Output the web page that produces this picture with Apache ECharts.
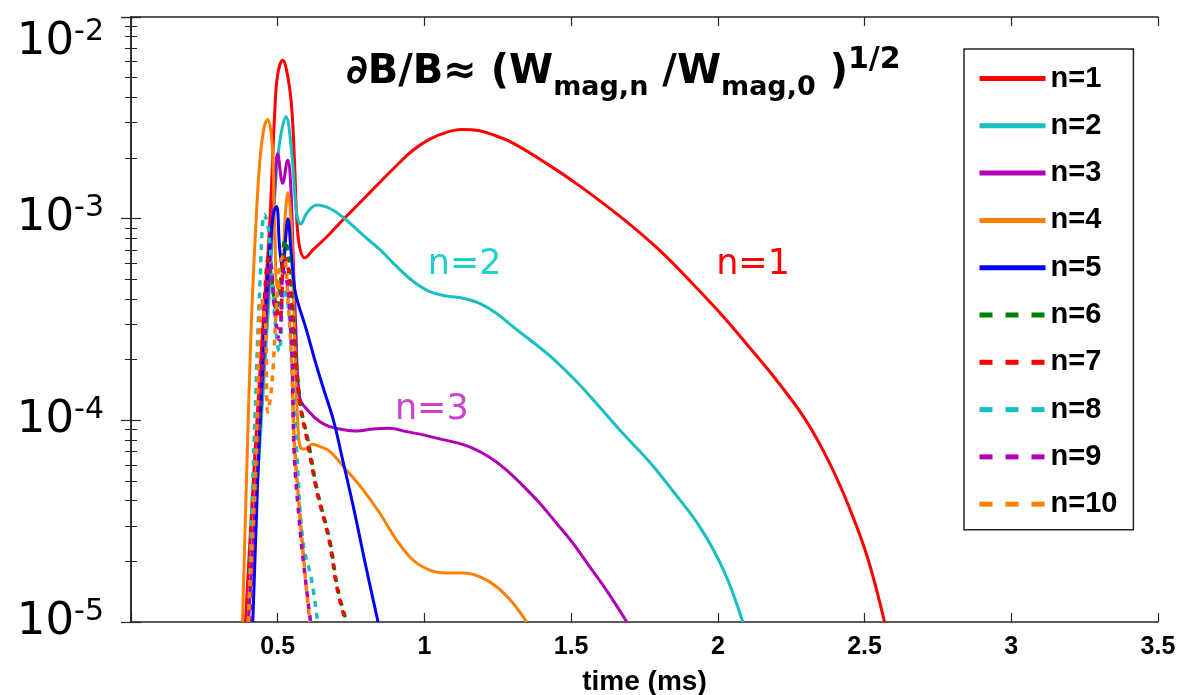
<!DOCTYPE html>
<html><head><meta charset="utf-8">
<script src="https://cdn.jsdelivr.net/npm/echarts@6/dist/echarts.min.js"></script>
<style>html,body{margin:0;padding:0;background:#fff}#c{width:1182px;height:695px}</style>
</head><body><div id="c"></div>
<script>
// ---- data (time in ms, dB/B) ----
const seriesNames = ['n=1','n=2','n=3','n=4','n=5','n=6','n=7','n=8','n=9','n=10'];
const n1 = [[0.39,1e-5],[0.42,6e-5],[0.45,3e-4],[0.47,8e-4],[0.48,1.6e-3],[0.49,3.4e-3],[0.50,5.2e-3],[0.517,6.1e-3],[0.535,5.0e-3],[0.548,3.5e-3],[0.558,1.8e-3],[0.565,1.0e-3],[0.575,7.2e-4],[0.592,6.4e-4],[0.62,7.0e-4],[0.67,8.2e-4],[0.72,9.8e-4],[0.78,1.2e-3],[0.849,1.52e-3],[0.906,1.84e-3],[0.962,2.19e-3],[1.018,2.48e-3],[1.075,2.68e-3],[1.126,2.77e-3],[1.188,2.73e-3],[1.245,2.57e-3],[1.302,2.37e-3],[1.416,1.88e-3],[1.53,1.45e-3],[1.676,1.0e-3],[1.80,7.0e-4],[1.90,5.0e-4],[2.00,3.5e-4],[2.10,2.37e-4],[2.20,1.58e-4],[2.30,1.0e-4],[2.38,6.17e-5],[2.45,3.63e-5],[2.51,2.09e-5],[2.568,1e-5]];
const n2 = [[0.40,1e-5],[0.44,8e-5],[0.47,4e-4],[0.49,1.3e-3],[0.505,2.3e-3],[0.528,3.2e-3],[0.548,2.1e-3],[0.565,1.05e-3],[0.578,9.4e-4],[0.60,1.07e-3],[0.633,1.17e-3],[0.68,1.12e-3],[0.728,1.0e-3],[0.79,8.3e-4],[0.849,7.0e-4],[0.906,5.78e-4],[0.962,4.88e-4],[1.018,4.35e-4],[1.075,4.14e-4],[1.132,4.03e-4],[1.188,3.8e-4],[1.245,3.4e-4],[1.302,2.91e-4],[1.359,2.51e-4],[1.437,2.03e-4],[1.52,1.55e-4],[1.6,1.15e-4],[1.68,8.5e-5],[1.768,6.2e-5],[1.85,4.4e-5],[1.938,2.97e-5],[2.02,1.8e-5],[2.085,1e-5]];
const n3 = [[0.40,1e-5],[0.44,1e-4],[0.47,5e-4],[0.488,1.3e-3],[0.50,2.1e-3],[0.517,1.5e-3],[0.534,1.95e-3],[0.544,1.5e-3],[0.552,7e-4],[0.562,2.8e-4],[0.575,1.3e-4],[0.61,1.09e-4],[0.645,9.8e-5],[0.678,9.3e-5],[0.711,9.06e-5],[0.768,8.85e-5],[0.825,9.06e-5],[0.882,9.13e-5],[0.939,8.79e-5],[0.996,8.47e-5],[1.052,8.09e-5],[1.109,7.75e-5],[1.166,7.27e-5],[1.222,6.56e-5],[1.279,5.68e-5],[1.336,4.73e-5],[1.393,3.88e-5],[1.45,3.09e-5],[1.506,2.46e-5],[1.563,1.88e-5],[1.62,1.44e-5],[1.69,1e-5]];
const n4 = [[0.38,1e-5],[0.395,6e-5],[0.41,3e-4],[0.425,9e-4],[0.44,2.0e-3],[0.455,2.9e-3],[0.466,3.1e-3],[0.477,2.7e-3],[0.484,1.9e-3],[0.49,9e-4],[0.50,4.5e-4],[0.515,5e-4],[0.525,1.0e-3],[0.535,1.35e-3],[0.545,1.0e-3],[0.552,5e-4],[0.56,2e-4],[0.568,1.0e-4],[0.578,7.3e-5],[0.595,7.2e-5],[0.618,7.6e-5],[0.645,7.4e-5],[0.678,7.0e-5],[0.734,5.68e-5],[0.791,4.52e-5],[0.848,3.46e-5],[0.905,2.55e-5],[0.961,2.03e-5],[1.018,1.81e-5],[1.075,1.75e-5],[1.132,1.75e-5],[1.188,1.68e-5],[1.245,1.5e-5],[1.302,1.24e-5],[1.348,1e-5]];
const n5 = [[0.415,1e-5],[0.44,1e-4],[0.465,5e-4],[0.485,1.05e-3],[0.496,1.15e-3],[0.507,7e-4],[0.518,5.5e-4],[0.527,8e-4],[0.535,1.0e-3],[0.545,7e-4],[0.555,4.8e-4],[0.565,4.0e-4],[0.595,2.9e-4],[0.626,2.0e-4],[0.655,1.45e-4],[0.69,1.0e-4],[0.72,6.5e-5],[0.76,3.6e-5],[0.80,1.9e-5],[0.842,1e-5]];
const n6 = [[0.40,1e-5],[0.43,6e-5],[0.455,2.8e-4],[0.475,5.5e-4],[0.495,3.5e-4],[0.51,5e-4],[0.525,7.8e-4],[0.54,6e-4],[0.555,3e-4],[0.57,1.5e-4],[0.582,1.1e-4],[0.603,8e-5],[0.636,4.4e-5],[0.677,2.55e-5],[0.705,1.45e-5],[0.735,1e-5]];
const n7 = [[0.395,1e-5],[0.425,6e-5],[0.45,3e-4],[0.47,6.5e-4],[0.49,4e-4],[0.508,3.2e-4],[0.522,6.5e-4],[0.537,5.5e-4],[0.552,2.8e-4],[0.568,1.5e-4],[0.58,1.1e-4],[0.60,8e-5],[0.634,4.4e-5],[0.675,2.55e-5],[0.703,1.45e-5],[0.732,1e-5]];
const n8 = [[0.40,1e-5],[0.42,8e-5],[0.44,5e-4],[0.455,1.05e-3],[0.47,8.5e-4],[0.488,3.5e-4],[0.505,2.2e-4],[0.522,4.5e-4],[0.538,3.5e-4],[0.552,1.6e-4],[0.565,7e-5],[0.586,2.5e-5],[0.616,1.6e-5],[0.636,1e-5]];
const n9 = [[0.405,1e-5],[0.43,7e-5],[0.455,3e-4],[0.475,6e-4],[0.49,3.5e-4],[0.505,2.5e-4],[0.52,5.5e-4],[0.535,4.5e-4],[0.548,2.2e-4],[0.556,7e-5],[0.575,3e-5],[0.595,1.6e-5],[0.612,1e-5]];
const n10 = [[0.40,1e-5],[0.425,6e-5],[0.445,4e-4],[0.458,3e-4],[0.466,1.1e-4],[0.48,1.5e-4],[0.495,3.5e-4],[0.507,6e-4],[0.52,6.5e-4],[0.535,4e-4],[0.548,1.8e-4],[0.557,7.7e-5],[0.575,3.5e-5],[0.592,1.8e-5],[0.609,1e-5]];
const thresholdLevel = 1.03e-3;
const xTickLabels = [0.5,1,1.5,2,2.5,3,3.5];
const yExponents = [-5,-4,-3,-2];
const annotationText = ['n=1','n=2','n=3'];
const annotationX = [2.12, 1.137, 1.025];
const annotationY = [5.9e-4, 5.9e-4, 1.13e-4];
const annotationColor = ['#FF0000','#1ED0D0','#CC44CC'];

// ---- styles ----
const allData = [n1,n2,n3,n4,n5,n6,n7,n8,n9,n10];
const colors = ['#FF0000','#17BFBF','#B000B4','#FF8000','#0000FF','#008000','#FF0000','#17BFBF','#B000B4','#FF8000'];
const dashed = [false,false,false,false,false,true,true,true,true,true];
const axisColor = '#262626';
const sansBold = "'Liberation Sans',Arial,sans-serif";
const dejavu = "'DejaVu Sans',sans-serif";

const series = seriesNames.map((name, i) => ({
  type: 'line', name, data: allData[i], symbol: 'none', smooth: 0.4,
  clip: true,
  lineStyle: { color: colors[i], width: dashed[i] ? 3.5 : 3, type: dashed[i] ? [6, 6] : 'solid' },
  itemStyle: { color: colors[i] },
  z: 2 + i
}));
series[0].markLine = {
  silent: true, symbol: 'none', animation: false,
  lineStyle: { color: '#000', width: 2, type: [9, 7] },
  label: { show: false },
  data: [{ yAxis: thresholdLevel }]
};
annotationText.forEach((t, k) => {
  series[k].markPoint = {
    silent: true, symbol: 'circle', symbolSize: 1, animation: false,
    itemStyle: { color: 'rgba(0,0,0,0)' },
    label: { show: true, position: 'inside', formatter: t, color: annotationColor[k],
             fontSize: 35, fontFamily: dejavu },
    data: [{ coord: [annotationX[k], annotationY[k]] }]
  };
});

const legendData = seriesNames.map((name, i) => ({
  name,
  lineStyle: { width: 5, type: dashed[i] ? [13, 13] : 'solid' },
  itemStyle: { color: 'rgba(0,0,0,0)', borderColor: 'rgba(0,0,0,0)', borderWidth: 0, opacity: 0 }
}));

const chart = echarts.init(document.getElementById('c'), null, { renderer: 'canvas' });
chart.setOption({
  animation: false,
  backgroundColor: '#fff',
  title: {
    text: '{a|∂B/B≈ (W}{s|mag,n}{a| /W}{s|mag,0}{a| )}{p|1/2}',
    left: 346, top: 44, padding: 0,
    textStyle: {
      rich: {
        a: { fontSize: 40, fontWeight: 'bold', fontFamily: dejavu, color: '#000' },
        s: { fontSize: 27, fontWeight: 'bold', fontFamily: dejavu, color: '#000', padding: [30, 0, 0, 0] },
        p: { fontSize: 30, fontWeight: 'bold', fontFamily: dejavu, color: '#000', padding: [0, 0, 24, 0] }
      }
    }
  },
  legend: {
    data: legendData,
    orient: 'vertical', left: 964, top: 49,
    padding: [15, 16, 11, 13],
    itemWidth: 66, itemHeight: 14, itemGap: 18.3,
    borderColor: '#222', borderWidth: 1.5,
    selectedMode: false,
    itemStyle: { color: 'rgba(0,0,0,0)', borderWidth: 0, opacity: 0 },
    textStyle: { fontSize: 29, fontWeight: 'bold', fontFamily: sansBold, color: '#000', lineHeight: 28 }
  },
  grid: { left: 131, right: 24, top: 17, bottom: 73, outerBoundsMode: 'none' },
  xAxis: [{
    type: 'value', min: 0, max: 3.5, interval: 0.5, position: 'bottom',
    axisLine: { show: true, lineStyle: { color: axisColor, width: 1.5 } },
    axisTick: { show: true, inside: true, length: 9, lineStyle: { color: axisColor, width: 1.2 } },
    splitLine: { show: false },
    axisLabel: {
      margin: 13, color: '#000', fontSize: 25, fontWeight: 'bold', fontFamily: sansBold,
      formatter: v => (xTickLabels.indexOf(v) >= 0 ? String(v) : '')
    },
    name: 'time (ms)', nameLocation: 'middle', nameGap: 46,
    nameTextStyle: { color: '#000', fontSize: 28, fontWeight: 'bold', fontFamily: sansBold }
  }, {
    type: 'value', min: 0, max: 3.5, interval: 0.5, position: 'top',
    axisLine: { show: true, lineStyle: { color: axisColor, width: 1.5 } },
    axisTick: { show: true, inside: true, length: 9, lineStyle: { color: axisColor, width: 1.2 } },
    splitLine: { show: false }, axisLabel: { show: false }
  }],
  yAxis: [{
    type: 'log', logBase: 10, min: 1e-5, max: 1e-2, position: 'left',
    axisLine: { show: true, lineStyle: { color: axisColor, width: 1.5 } },
    axisTick: { show: true, inside: true, length: 10, lineStyle: { color: axisColor, width: 1.2 } },
    minorTick: { show: true, splitNumber: 9, length: 6, lineStyle: { color: axisColor, width: 1 } },
    splitLine: { show: false }, minorSplitLine: { show: false },
    axisLabel: {
      margin: 27, color: '#000',
      formatter: v => {
        const e = Math.round(Math.log10(v));
        if (yExponents.indexOf(e) < 0) return '';
        const top = e === yExponents[yExponents.length - 1];
        return top ? '{bt|10}{st|' + e + '}' : '{b|10}{s|' + e + '}';
      },
      rich: {
        b: { fontSize: 45, fontFamily: dejavu, color: '#000' },
        s: { fontSize: 30, fontFamily: dejavu, color: '#000', padding: [0, 0, 20, 0] },
        bt: { fontSize: 45, fontFamily: dejavu, color: '#000', padding: [50, 0, 0, 0] },
        st: { fontSize: 30, fontFamily: dejavu, color: '#000', padding: [30, 0, 0, 0] }
      }
    }
  }, {
    type: 'log', logBase: 10, min: 1e-5, max: 1e-2, position: 'right',
    axisLine: { show: true, lineStyle: { color: axisColor, width: 1.5 } },
    axisTick: { show: true, inside: true, length: 10, lineStyle: { color: axisColor, width: 1.2 } },
    minorTick: { show: true, splitNumber: 9, length: 6, lineStyle: { color: axisColor, width: 1 } },
    splitLine: { show: false }, minorSplitLine: { show: false },
    axisLabel: { show: false }
  }],
  series
});
</script>
</body></html>
